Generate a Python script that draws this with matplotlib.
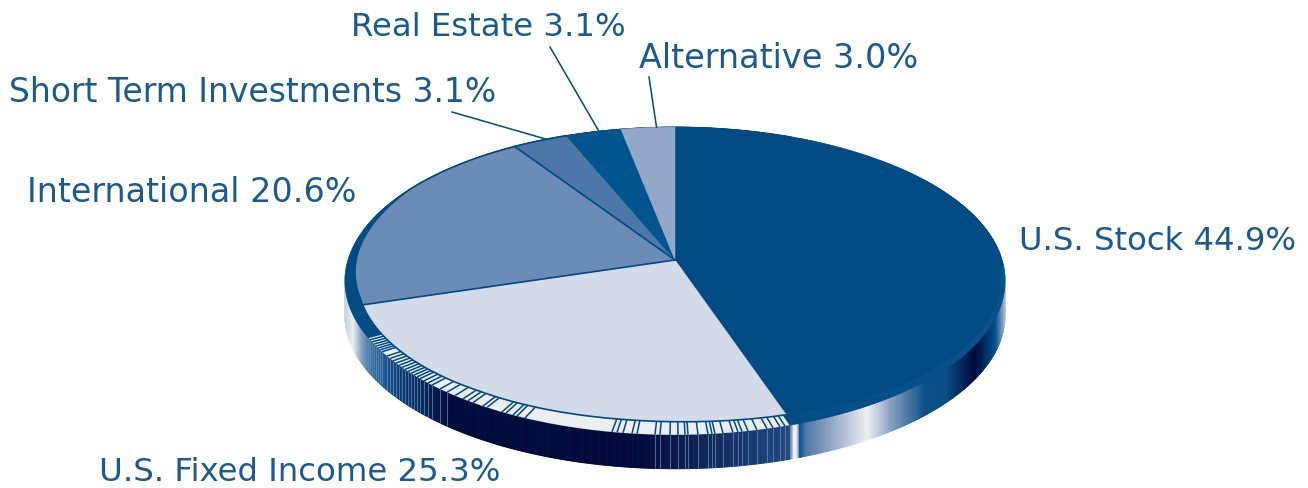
import numpy as np
import matplotlib
matplotlib.use('Agg')
import matplotlib.pyplot as plt
from matplotlib.collections import PolyCollection, LineCollection
from matplotlib.colors import LinearSegmentedColormap

# Data
categorias = ['U.S. Stock', 'U.S. Fixed Income', 'International',
              'Short Term Investments', 'Real Estate', 'Alternative']
valores = [44.9, 25.3, 20.6, 3.1, 3.1, 3.0]
cores = ['#004b84', '#d3dbe9', '#6b8cb7', '#4d77a6', '#00558f', '#93a7c9']

# where the stripes sit along the front bevel (pixel x on the rim)
listras = [368, 370, 372, 374, 376, 378, 380, 382, 387, 390, 393, 396, 399, 402,
           405, 408, 411, 414, 417, 420, 424, 428, 432, 440, 447, 455, 463, 468,
           473, 483, 487, 502, 506, 513, 517, 525, 612, 617, 623, 632, 637, 655,
           660, 670, 678, 685, 688, 698, 708, 712, 715, 723, 733, 738, 742, 748,
           757, 767, 773, 780, 785]

AZUL = '#004b84'
TEXTO = '#1b5a8e'
CX, CY = 675, 261
PROF = 34


def externo(t):
    # perspective view of the disc rim, t in degrees clockwise from the top
    r = np.radians(t)
    X, Y = np.sin(r), np.cos(r)
    w = 1 + 0.136 * Y
    return CX + 327 * X / w, CY - 151 * Y / w


def interno(t):
    # face edge: rim pulled toward the apex by the bevel width
    x, y = externo(t)
    g = np.interp(t, [0, 90, 160, 180, 215, 255, 270, 300, 360], [0, 3, 12, 13, 16, 13, 8, 0, 0])
    d = np.hypot(x - CX, y - CY)
    return x - g * (x - CX) / d, y - g * (y - CY) / d


fig = plt.figure(figsize=(13.08, 4.89), dpi=100)
ax = fig.add_axes([0, 0, 1, 1])
ax.set_xlim(0, 1308)
ax.set_ylim(489, 0)
ax.axis('off')

# side of the disc, shaded by position on screen
grad_x = [345, 352, 362, 372, 385, 400, 450, 640, 790, 794, 797, 800, 806, 830, 868,
          875, 890, 925, 945, 975, 995, 1003, 1006]
grad_c = ['#c9d4e4', '#eef0f4', '#7d9bc0', '#2f6ea3', '#1a5a90', '#0d3f78', '#000a3a',
          '#000a3a', '#1f4a80', '#eef0f4', '#eef0f4', '#00508a', '#4b77a6', '#8ea3c4',
          '#eef0f4', '#d0d8e6', '#8ea3c4', '#0a5088', '#0a5088', '#000a3a', '#00508a',
          '#8ea3c4', '#d0d8e6']
cmap = LinearSegmentedColormap.from_list(
    'lado', [((x - 345) / 661, c) for x, c in zip(grad_x, grad_c)], N=1024)

t = np.linspace(0, 360, 1441)
ox, oy = externo(t)
lados = [[(ox[i], oy[i]), (ox[i + 1], oy[i + 1]),
          (ox[i + 1], oy[i + 1] + PROF), (ox[i], oy[i] + PROF)] for i in range(len(t) - 1)]
cores_lado = [cmap((ox[i] - 345) / 661) for i in range(len(t) - 1)]
ax.add_collection(PolyCollection(lados, facecolors=cores_lado, edgecolors=cores_lado, linewidths=0.6))

# bevel ring
ax.fill(ox, oy, color=AZUL, lw=0.5, zorder=2)
fim = np.cumsum(valores) * 3.6
inicio = np.r_[0, fim[:-1]]
tt = np.linspace(150, 268, 800)
xx = externo(tt)[0]
t_claro = np.linspace(fim[0] + 0.6, np.interp(-368, -xx, tt), 200)
cx_o, cy_o = externo(t_claro)
cx_i, cy_i = interno(t_claro)
ax.fill(np.r_[cx_o, cx_i[::-1]], np.r_[cy_o, cy_i[::-1]], color='#eceef1', lw=0, zorder=3)

# stripes on the bevel and the matching ones on the side
t_listra = np.interp(-np.array(listras, dtype=float), -xx, tt)
lx_o, ly_o = externo(t_listra)
lx_i, ly_i = interno(t_listra)
segs = [[(a, b), (c, d)] for a, b, c, d in zip(lx_o, ly_o, lx_i, ly_i)]
ax.add_collection(LineCollection(segs, colors=AZUL, linewidths=1.1, zorder=4))
segs_lado = [[(a, b), (a, b + PROF)] for a, b in zip(lx_o, ly_o)
             if a < 450 or a > 640]
ax.add_collection(LineCollection(segs_lado, colors='#6f8db5', linewidths=0.7, alpha=0.7, zorder=1.5))

# faint texture on the dark bevel under the big slice
t_fino = np.arange(92, 160, 0.5)
fx_o, fy_o = externo(t_fino)
fx_i, fy_i = interno(t_fino)
segs = [[(a, b), (c, d)] for a, b, c, d in zip(fx_o, fy_o, fx_i, fy_i)]
ax.add_collection(LineCollection(segs, colors='#1d5f96', linewidths=0.5, alpha=0.7, zorder=4))

# top faces
for ini, f, cor in zip(inicio, fim, cores):
    a = np.linspace(ini, f, 200)
    fx, fy = interno(a)
    ax.fill(np.r_[CX, fx], np.r_[CY, fy], facecolor=cor, edgecolor=cor, lw=0.4, zorder=5)

# dark outline on the front of the light slice and the slice edges
a = np.linspace(inicio[1], fim[3], 400)
fx, fy = interno(a)
ax.plot(fx, fy, color=AZUL, lw=1.2, zorder=6)
for ang in [fim[1], fim[2]]:
    px, py = interno(np.array([ang]))
    ax.plot([CX, px[0]], [CY, py[0]], color=AZUL, lw=1.2, zorder=6)

# labels (text left edge, baseline, size) and leader lines
rot_x = [1019, 99, 27, 9, 351, 639]
rot_y = [250, 481, 202, 102, 36, 68]
rot_t = [23.2, 23.3, 24.0, 23.8, 23.3, 24.1]
guia_fim = [None, None, None, (452, 113), (550, 48), (649, 78)]
guia_frac = [0, 0, 0, 0.62, 0.6, 0.66]
for i, nome in enumerate(categorias):
    ax.text(rot_x[i], rot_y[i], '%s %.1f%%' % (nome, valores[i]), color=TEXTO,
            fontsize=rot_t[i], family='DejaVu Sans', va='baseline', ha='left', zorder=8)
    if guia_fim[i] is not None:
        a = inicio[i] + guia_frac[i] * (fim[i] - inicio[i])
        px, py = interno(np.array([a]))
        ax.plot([guia_fim[i][0], px[0]], [guia_fim[i][1], py[0]], color=AZUL, lw=1.1, zorder=7)

plt.savefig('out.png', dpi=100)
